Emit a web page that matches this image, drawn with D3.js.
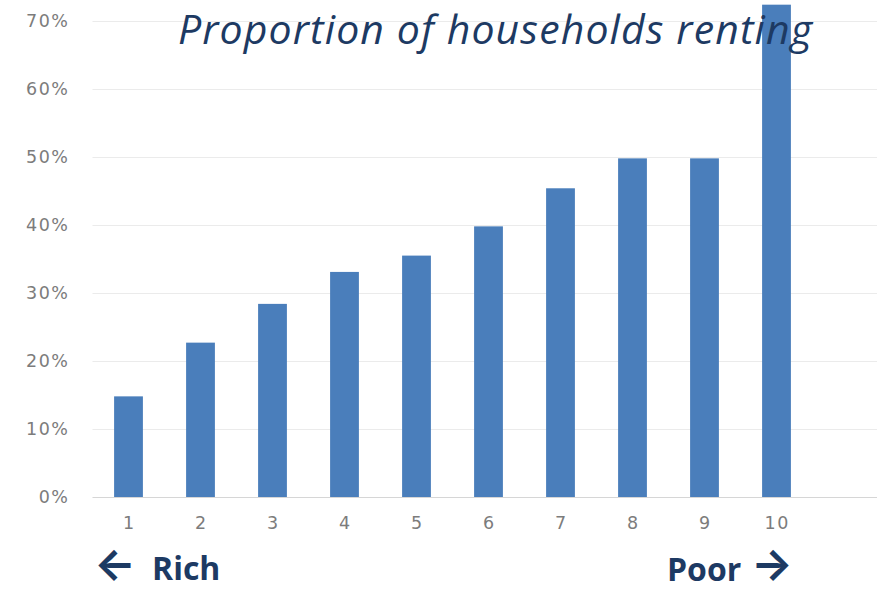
<!DOCTYPE html>
<html>
<head>
<meta charset="utf-8">
<script src="https://cdn.jsdelivr.net/npm/d3@7"></script>
<style>
  html, body { margin: 0; padding: 0; background: #fff; }
  svg { display: block; }
</style>
</head>
<body>
<script>
// Income deciles, 1 = richest, 10 = poorest
const deciles = [1, 2, 3, 4, 5, 6, 7, 8, 9, 10];
// Share of households renting in each decile
const renting = [0.148, 0.227, 0.284, 0.331, 0.355, 0.398, 0.454, 0.498, 0.498, 0.724];
// Value-axis ticks
const yTicks = [0, 0.1, 0.2, 0.3, 0.4, 0.5, 0.6, 0.7];

const W = 877, H = 590;
const plot = { left: 92.5, right: 812.5, top: 21, bottom: 497, gridEnd: 877 };

const svg = d3.select("body").append("svg")
  .attr("width", W).attr("height", H);

const x = d3.scaleBand()
  .domain(deciles)
  .range([plot.left, plot.right])
  .paddingInner(0.6)
  .paddingOuter(0.3);

const y = d3.scaleLinear()
  .domain([0, 0.7])
  .range([plot.bottom, plot.top]);

const tickFont = sel => sel
  .attr("fill", "#7c7c7c")
  .style("font-family", "'DejaVu Sans', sans-serif")
  .style("font-size", "17.5px")
  .style("letter-spacing", "1.5px");

// Value axis with horizontal gridlines
const yAxis = svg.append("g")
  .attr("transform", `translate(${plot.left},0)`)
  .call(d3.axisLeft(y)
    .tickValues(yTicks)
    .tickFormat(d3.format(".0%"))
    .tickSize(-(plot.gridEnd - plot.left))
    .tickPadding(23));
yAxis.select(".domain").remove();
yAxis.selectAll(".tick line")
  .attr("stroke", d => d === 0 ? "#d6d6d6" : "#ebebeb")
  .attr("stroke-width", 1.2);
yAxis.selectAll(".tick text").call(tickFont);

// Bars
svg.append("g").selectAll("rect")
  .data(deciles)
  .join("rect")
  .attr("x", d => x(d))
  .attr("width", x.bandwidth())
  .attr("y", (d, i) => y(renting[i]))
  .attr("height", (d, i) => y(0) - y(renting[i]))
  .attr("fill", "#4a7ebb");

// Category axis labels
const xAxis = svg.append("g")
  .attr("transform", `translate(0,${plot.bottom})`)
  .call(d3.axisBottom(x).tickSize(0).tickPadding(20));
xAxis.select(".domain").remove();
xAxis.selectAll(".tick text").call(tickFont)
  .attr("dx", "0.75px");

// Title
svg.append("text")
  .attr("x", 178).attr("y", 44)
  .attr("fill", "#1d3a63")
  .attr("textLength", 634)
  .attr("lengthAdjust", "spacing")
  .style("font-family", "'Open Sans', sans-serif")
  .style("font-style", "italic")
  .style("font-size", "41px")
  .text("Proportion of households renting");

// Direction labels under the axis
const navy = "#1d3a63";
const word = (tx, ty, s) => svg.append("text")
  .attr("x", tx).attr("y", ty)
  .attr("fill", navy)
  .style("font-family", "'Open Sans', sans-serif")
  .style("font-weight", "bold")
  .style("font-size", "32px")
  .text(s);
const arrow = (tx, ty, s) => svg.append("text")
  .attr("x", tx).attr("y", ty)
  .attr("fill", navy)
  .style("font-family", "Inter, 'DejaVu Sans', sans-serif")
  .style("font-weight", "bold")
  .style("font-size", "44px")
  .text(s);

arrow(94, 579, "←");
word(152, 580, "Rich");
word(667, 581, "Poor");
arrow(751, 579, "→");
</script>
</body>
</html>
